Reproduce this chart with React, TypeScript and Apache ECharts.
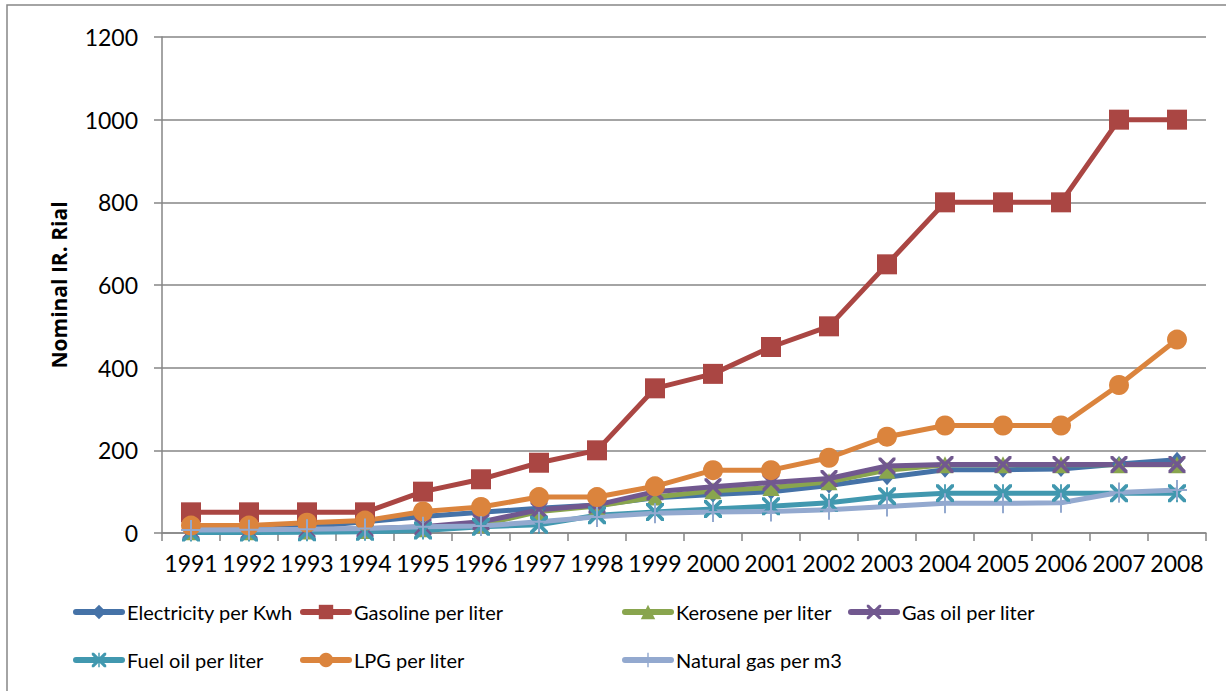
import React, { useEffect, useRef } from "react";
import * as echarts from "echarts";

// Nominal energy carrier prices in Iran (IR. Rial), 1991–2008
const years = [
  "1991", "1992", "1993", "1994", "1995", "1996", "1997", "1998", "1999",
  "2000", "2001", "2002", "2003", "2004", "2005", "2006", "2007", "2008",
];
const electricity = [5, 7, 15, 27, 40, 50, 60, 68, 85, 93, 100, 115, 135, 153, 153, 155, 167, 177];
const gasoline = [50, 50, 50, 50, 100, 130, 170, 200, 350, 385, 450, 500, 650, 800, 800, 800, 1000, 1000];
const kerosene = [3, 3, 5, 6, 10, 20, 52, 65, 87, 102, 110, 124, 152, 165, 165, 165, 165, 165];
const gasOil = [5, 5, 8, 10, 15, 27, 56, 68, 100, 112, 122, 132, 162, 166, 166, 166, 166, 166];
const fuelOil = [1, 1, 2, 3, 6, 15, 20, 43, 51, 58, 65, 73, 89, 96, 96, 96, 96, 96];
const lpg = [18, 18, 25, 30, 52, 63, 87, 87, 113, 152, 152, 182, 233, 260, 260, 260, 358, 468];
const naturalGas = [7, 8, 9, 11, 15, 17, 27, 39, 48, 51, 52, 56, 64, 72, 72, 73, 98, 104];

const yTicks = { min: 0, max: 1200, interval: 200 };

const FONT = "Lato, 'Liberation Sans', sans-serif";
const TITLE_FONT = "'Open Sans', 'Liberation Sans', sans-serif";
const AXIS_GREY = "#868686";

// marker outlines
const X_PATH =
  "path://M0,0 L3,0 L10,7 L17,0 L20,0 L20,3 L13,10 L20,17 L20,20 L17,20 L10,13 L3,20 L0,20 L0,17 L7,10 L0,3 Z";
const STAR_PATH =
  "path://M0,0 L3,0 L10,7 L17,0 L20,0 L20,3 L13,10 L20,17 L20,20 L17,20 L10,13 L3,20 L0,20 L0,17 L7,10 L0,3 Z M9,0 L11,0 L11,20 L9,20 Z";
const PLUS_PATH = "path://M9,0 L11,0 L11,9 L20,9 L20,11 L11,11 L11,20 L9,20 L9,11 L0,11 L0,9 L9,9 Z";

type S = {
  name: string;
  data: number[];
  color: string;
  symbol: string;
  size: number | number[];
};

const seriesDefs: S[] = [
  { name: "Electricity per Kwh", data: electricity, color: "#4572A7", symbol: "diamond", size: [14, 16] },
  { name: "Gasoline per liter", data: gasoline, color: "#AA4643", symbol: "rect", size: 20 },
  { name: "Kerosene per liter", data: kerosene, color: "#89A54E", symbol: "triangle", size: 17 },
  { name: "Gas oil per liter", data: gasOil, color: "#71588F", symbol: X_PATH, size: 17 },
  { name: "Fuel oil per liter", data: fuelOil, color: "#4198AF", symbol: STAR_PATH, size: 18 },
  { name: "LPG per liter", data: lpg, color: "#DB843D", symbol: "circle", size: 20 },
  { name: "Natural gas per m3", data: naturalGas, color: "#93A9CF", symbol: PLUS_PATH, size: 20 },
];

// legend cell positions (left, top) for each series
const legendCells: [number, number][] = [
  [73, 600],
  [300, 600],
  [622, 600],
  [848, 600],
  [73, 648],
  [300, 648],
  [622, 648],
];

export default function App() {
  const ref = useRef<HTMLDivElement>(null);

  useEffect(() => {
    if (!ref.current) return;
    const chart = echarts.init(ref.current, undefined, { renderer: "svg" });

    const option: any = {
      animation: false,
      backgroundColor: "#ffffff",
      textStyle: { fontFamily: FONT },
      grid: { left: 162, right: 20, top: 37, bottom: 158, containLabel: false },
      graphic: [
        {
          type: "rect",
          shape: { x: 7, y: 5, width: 1240, height: 700 },
          style: { fill: "none", stroke: AXIS_GREY, lineWidth: 1.5 },
          silent: true,
        },
      ],
      legend: seriesDefs.map((s, i) => ({
        show: true,
        data: [s.name],
        left: legendCells[i][0],
        top: legendCells[i][1],
        itemWidth: 46,
        itemHeight: 18,
        itemGap: 0,
        padding: 0,
        selectedMode: false,
        lineStyle: { width: 6, cap: "round" },
        textStyle: { fontFamily: FONT, fontSize: 20, color: "#000", lineHeight: 24, padding: [0, 0, 0, 0] },
      })),
      xAxis: {
        type: "category",
        data: years,
        boundaryGap: true,
        axisLine: { show: true, lineStyle: { color: AXIS_GREY, width: 1.5 } },
        axisTick: { show: true, length: 8, lineStyle: { color: AXIS_GREY, width: 1.5 } },
        axisLabel: { color: "#000", fontFamily: FONT, fontSize: 23, margin: 18, interval: 0 },
        splitLine: { show: false },
      },
      yAxis: {
        type: "value",
        min: yTicks.min,
        max: yTicks.max,
        interval: yTicks.interval,
        name: "Nominal IR. Rial",
        nameLocation: "middle",
        nameRotate: 90,
        nameGap: 93,
        nameTextStyle: { color: "#000", fontFamily: TITLE_FONT, fontSize: 21, fontWeight: "bold" },
        axisLine: { show: true, lineStyle: { color: AXIS_GREY, width: 1.5 } },
        axisTick: { show: true, length: 8, inside: false, lineStyle: { color: AXIS_GREY, width: 1.5 } },
        axisLabel: {
          color: "#000",
          fontFamily: FONT,
          fontSize: 23,
          margin: 24,
          formatter: (v: number) => String(v),
        },
        splitLine: { show: true, lineStyle: { color: AXIS_GREY, width: 1.5 } },
      },
      series: seriesDefs.map((s) => ({
        type: "line",
        name: s.name,
        data: s.data,
        symbol: s.symbol,
        symbolSize: s.size,
        showAllSymbol: true,
        clip: false,
        lineStyle: { color: s.color, width: 5 },
        itemStyle: { color: s.color, opacity: 1 },
        emphasis: { disabled: true },
      })),
    };

    chart.setOption(option);
    return () => chart.dispose();
  }, []);

  return (
    <div
      ref={ref}
      style={{ position: "absolute", left: 0, top: 0, width: 1226, height: 691 }}
    />
  );
}
